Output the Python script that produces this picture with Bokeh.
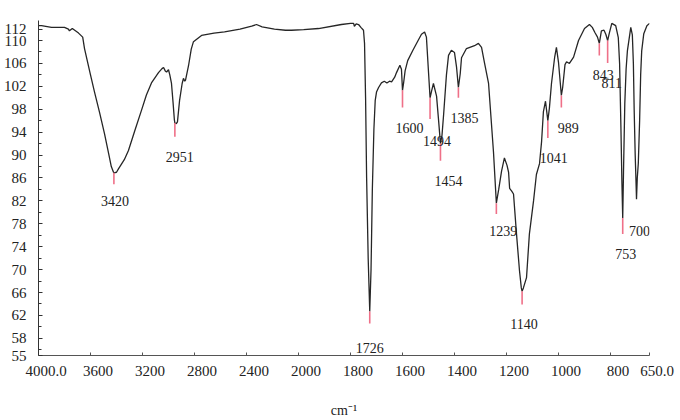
from bokeh.plotting import figure
from bokeh.models import ColumnDataSource, FixedTicker, Range1d
from bokeh.core.properties import value
from bokeh.embed import file_html
from bokeh.resources import INLINE

# ---------------- data ----------------
wavenumber = [4000, 3977, 3900, 3800, 3770, 3762, 3740, 3692, 3660, 3646, 3600, 3569, 3530, 3492,
              3460, 3440, 3423, 3420, 3400, 3385, 3340, 3308, 3260, 3208, 3170, 3131, 3077, 3050,
              3038, 3025, 3015, 3000, 2990, 2977, 2965, 2955, 2951, 2940, 2931, 2915, 2895, 2885,
              2875, 2869, 2846, 2825, 2808, 2746, 2650, 2569, 2450, 2360, 2323, 2280, 2185, 2100,
              2054, 1980, 1923, 1835, 1800, 1788, 1785, 1778, 1769, 1760, 1750, 1746, 1742, 1738,
              1732, 1726, 1721, 1716, 1710, 1705, 1700, 1692, 1681, 1670, 1660, 1650, 1642, 1630,
              1623, 1610, 1604, 1600, 1596, 1590, 1580, 1560, 1540, 1527, 1515, 1508, 1500, 1494,
              1488, 1481, 1469, 1462, 1454, 1448, 1442, 1431, 1423, 1412, 1400, 1392, 1385, 1378,
              1373, 1354, 1323, 1308, 1296, 1285, 1269, 1250, 1239, 1230, 1219, 1208, 1198, 1192,
              1188, 1180, 1173, 1162, 1150, 1143, 1140, 1135, 1123, 1112, 1096, 1085, 1073, 1065,
              1058, 1050, 1045, 1041, 1035, 1027, 1015, 1008, 1000, 989, 984, 975, 969, 958, 942,
              923, 900, 881, 870, 860, 850, 843, 835, 825, 818, 811, 805, 795, 780, 770, 765, 760,
              756, 753, 750, 745, 740, 735, 722, 716, 712, 709, 705, 702, 700, 697, 693, 688, 684,
              680, 672, 660, 650]
transmittance = [112.6, 112.6, 112.3, 112.3, 112.0, 111.7, 112.1, 111.3, 110.6, 108.6, 104.0, 101.0, 97.4, 93.7,
                 90.2, 88.0, 87.0, 86.9, 87.0, 87.6, 89.2, 90.8, 94.2, 97.8, 100.5, 102.6, 104.4, 105.1,
                 105.3, 104.7, 104.5, 104.9, 104.0, 102.5, 99.2, 96.2, 95.6, 95.5, 95.8, 99.5, 102.5, 103.4,
                 102.9, 103.1, 105.6, 108.5, 109.8, 110.9, 111.3, 111.5, 112.0, 112.5, 112.8, 112.4, 112.0, 111.8,
                 111.8, 111.9, 112.1, 112.8, 113.0, 113.0, 112.5, 112.9, 112.8, 112.3, 111.8, 109.5, 100.0, 86.0,
                 72.0, 62.7, 70.0, 84.0, 94.5, 99.5, 101.0, 101.8, 102.6, 102.9, 102.6, 102.9, 102.8, 103.6,
                 104.4, 105.7, 105.0, 101.3, 102.5, 104.7, 106.5, 108.3, 110.0, 111.1, 111.5, 110.6, 104.5, 100.0,
                 101.2, 102.5, 100.3, 96.5, 92.0, 93.5, 97.0, 104.0, 107.4, 108.3, 107.9, 105.3, 101.8, 104.2,
                 107.0, 108.6, 109.1, 109.5, 108.8, 106.2, 102.5, 90.5, 81.6, 84.0, 87.2, 89.5, 88.2, 87.0,
                 84.2, 83.7, 83.2, 76.5, 69.8, 66.8, 66.2, 66.8, 68.6, 76.2, 82.0, 86.6, 88.5, 92.4,
                 97.6, 99.4, 97.5, 96.0, 98.2, 102.5, 107.0, 108.8, 106.2, 100.4, 101.8, 105.8, 106.3, 106.0, 107.1,
                 110.0, 112.1, 112.8, 112.3, 111.4, 110.6, 109.5, 111.7, 111.8, 111.1, 110.0, 111.2, 113.0, 112.6, 110.5, 106.0, 95.0,
                 85.0, 79.0, 87.0, 99.0, 105.0, 108.2, 112.3, 111.0, 106.0, 98.0, 90.0, 85.5, 82.3, 86.0, 88.6, 96.0, 104.0,
                 108.2, 111.2, 112.6, 113.0]

peak_wn = [3420, 2951, 1726, 1600, 1494, 1454, 1385, 1239, 1140, 1041, 989, 843, 811, 753, 700]
peak_labels = [str(w) for w in peak_wn]
marker_drop = [2.0, 2.4, 2.1, 3.0, 3.7, 3.0, 1.8, 1.9, 2.3, 3.0, 2.1, 2.1, 3.9, 2.8, 0.0]

x_tick_wn = [4000, 3600, 3200, 2800, 2400, 2000, 1800, 1600, 1400, 1200, 1000, 800, 650]
x_tick_labels = ["4000.0", "3600", "3200", "2800", "2400", "2000", "1800", "1600", "1400",
                 "1200", "1000", "800", "650.0"]
y_ticks = [55, 58, 62, 66, 70, 74, 78, 82, 86, 90, 94, 98, 102, 106, 110, 112]

# label placement (screen pixel offsets from each peak)
label_dx = [1, 5, 0, 7, 7, 8, 6, 7, 2, 6, 7, 4, 4, 3, 3]
label_dy = [28, 34, 37, 38, 43, 37, 30, 28, 33, 37, 32, 32, 42, 36, 32]


# Instrument-style split abscissa: 4000-2000 at half the scale of 2000-650
def to_axis(w):
    return (4000 - w) / 2 if w >= 2000 else 1000 + (2000 - w)


Y_MIN, Y_MAX = 55, 113.5
X0, X1 = to_axis(4000), to_axis(650)
EM = "\u2003"  # the original's tick labels sit about half an em right of their ticks

lookup = dict(zip(wavenumber, transmittance))
peak_T = [lookup[w] for w in peak_wn]

spec = ColumnDataSource(dict(u=[to_axis(w) for w in wavenumber], t=transmittance))
pk_mark_idx = [i for i, d in enumerate(marker_drop) if d > 0]
marks = ColumnDataSource(dict(
    u=[to_axis(peak_wn[i]) for i in pk_mark_idx],
    t0=[peak_T[i] for i in pk_mark_idx],
    t1=[peak_T[i] - marker_drop[i] for i in pk_mark_idx],
))
labels = ColumnDataSource(dict(
    u=[to_axis(w) for w in peak_wn], t=peak_T, text=peak_labels, dx=label_dx, dy=label_dy,
))

SERIF = "Liberation Serif"

p = figure(width=680, height=420, output_backend="svg", toolbar_location=None,
           x_range=Range1d(X0, X1), y_range=Range1d(Y_MIN, Y_MAX),
           min_border_left=37, min_border_right=31, min_border_top=20, min_border_bottom=65)
p.outline_line_color = None
p.xgrid.visible = False
p.ygrid.visible = False
p.background_fill_color = "white"

p.line("u", "t", source=spec, line_color="#262626", line_width=1.3)
p.segment(x0="u", y0="t0", x1="u", y1="t1", source=marks, line_color="#ef7088", line_width=1.6)
p.text(x="u", y="t", text="text", x_offset="dx", y_offset="dy", source=labels,
       text_font=value(SERIF), text_font_size="14px", text_color="#222222",
       text_align="center", text_baseline="middle")

tick_pos = [to_axis(w) for w in x_tick_wn]

xa = p.xaxis[0]
xa.ticker = FixedTicker(ticks=tick_pos)
xa.major_label_overrides = {t: EM + lab for t, lab in zip(tick_pos, x_tick_labels)}
xa.major_tick_in = 3
xa.major_tick_out = 0
xa.minor_tick_line_color = None
xa.axis_line_color = "#555555"
xa.major_tick_line_color = "#555555"
xa.major_label_standoff = 7
xa.major_label_text_font = SERIF
xa.major_label_text_font_size = "15px"
xa.major_label_text_color = "#222222"
xa.axis_label = "cm⁻¹"
xa.axis_label_text_font = SERIF
xa.axis_label_text_font_size = "14px"
xa.axis_label_text_font_style = "normal"
xa.axis_label_text_color = "#222222"
xa.axis_label_standoff = 21

ya = p.yaxis[0]
ya.ticker = FixedTicker(ticks=y_ticks, minor_ticks=list(range(56, 113, 2)))
ya.major_tick_in = 4
ya.major_tick_out = 0
ya.minor_tick_in = 3
ya.minor_tick_out = 0
ya.axis_line_color = "#333333"
ya.major_tick_line_color = "#333333"
ya.minor_tick_line_color = "#333333"
ya.major_label_standoff = 12
ya.major_label_text_font = SERIF
ya.major_label_text_font_size = "15px"
ya.major_label_text_color = "#222222"

open("out.html", "w").write(file_html(p, INLINE))
